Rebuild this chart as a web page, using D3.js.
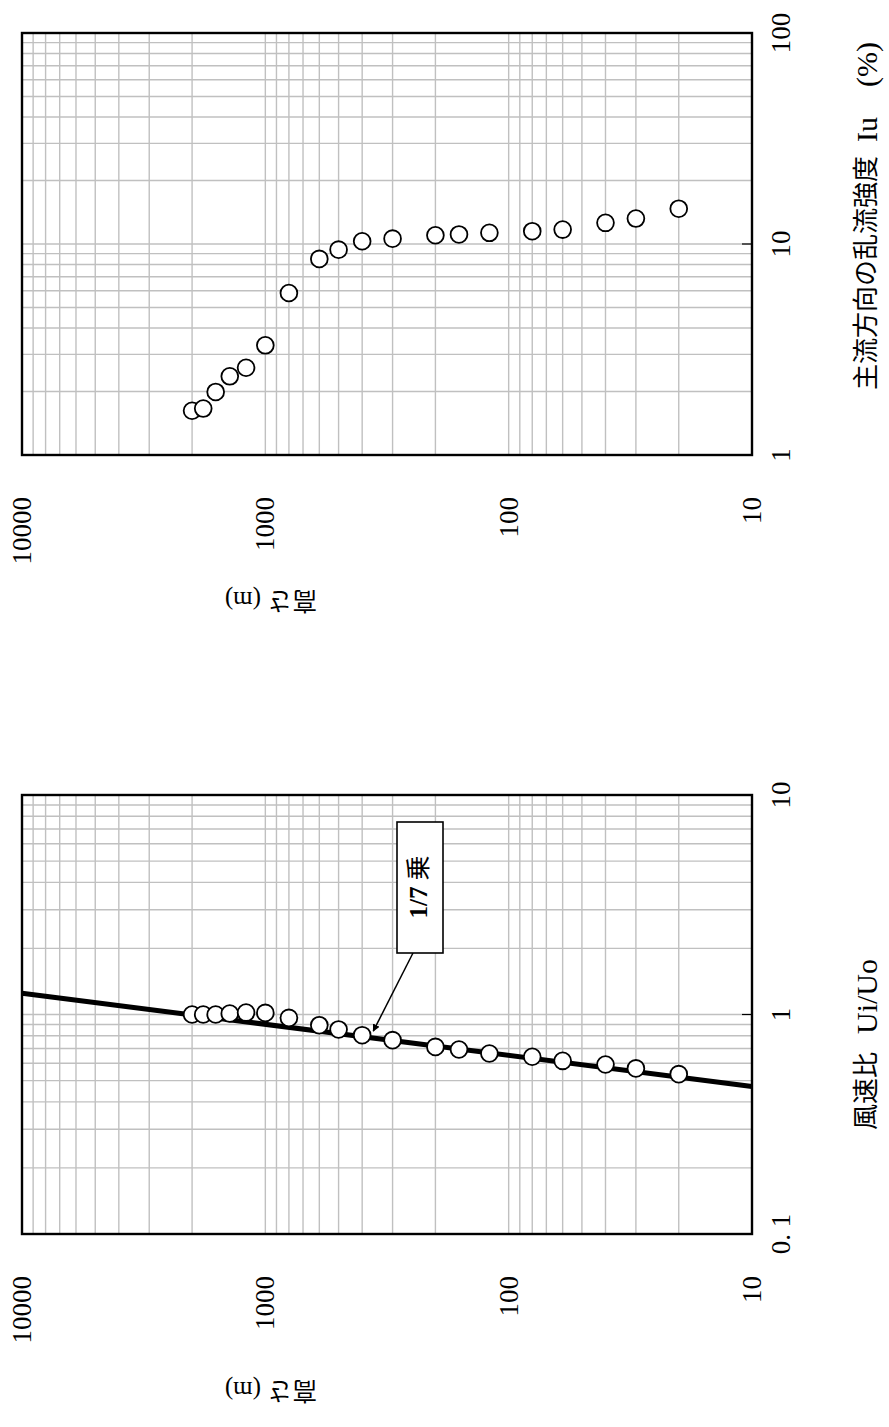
<!DOCTYPE html>
<html>
<head>
<meta charset="utf-8">
<script src="https://cdn.jsdelivr.net/npm/d3@7"></script>
<style>
  body { margin: 0; background: #fff; }
  text { font-family: "Liberation Serif", "Noto Sans CJK JP", serif; fill: #000; }
</style>
</head>
<body>
<div id="chart"></div>
<script>
// measured heights (m), shared by both panels
var heights = [2000, 1800, 1600, 1400, 1200, 1000, 800, 600, 500, 400, 300, 200, 160, 120, 80, 60, 40, 30, 20];

// turbulence intensity Iu (%)
var turbIntensity = [1.62, 1.66, 1.99, 2.36, 2.59, 3.31, 5.86, 8.5, 9.4, 10.3, 10.6, 11.0, 11.1, 11.3, 11.5, 11.7, 12.6, 13.2, 14.7];

// wind speed ratio Ui/Uo
var speedRatio = [1.0, 1.0, 1.0, 1.01, 1.02, 1.017, 0.965, 0.894, 0.855, 0.805, 0.764, 0.712, 0.693, 0.664, 0.642, 0.615, 0.592, 0.568, 0.535];

// 1/7 power law line, read at the plot edges
var powerHeights = [10, 10000];
var powerRatios  = [0.47, 1.25];

var heightTicks = [10, 100, 1000, 10000];
var turbTicks   = [1, 10, 100];
var ratioTicks  = [0.1, 1, 10];

var W = 889, H = 1427;

var svg = d3.select("#chart")
  .append("svg")
  .attr("width", W)
  .attr("height", H)
;

svg.append("rect").attr("width", W).attr("height", H).style("fill", "#fff");

var x = d3.scaleLog().domain([10000, 10]).range([22, 752]);

function panel(params) {
  var top = params.top,
      bottom = params.bottom,
      y = d3.scaleLog().domain(params.yDomain).range([bottom, top]),
      g = svg.append("g");

  // grid
  g.selectAll(".vgrid")
    .data(x.ticks())
    .enter()
    .append("line")
    .attr("x1", function(d){ return x(d); })
    .attr("x2", function(d){ return x(d); })
    .attr("y1", top)
    .attr("y2", bottom)
    .style("stroke", "#c0c0c0")
    .style("stroke-width", 1.4)
  ;

  g.selectAll(".hgrid")
    .data(y.ticks())
    .enter()
    .append("line")
    .attr("x1", x.range()[0])
    .attr("x2", x.range()[1])
    .attr("y1", function(d){ return y(d); })
    .attr("y2", function(d){ return y(d); })
    .style("stroke", "#c0c0c0")
    .style("stroke-width", 1.4)
  ;

  // small ticks on the right edge
  g.selectAll(".rtick")
    .data(params.yTicks)
    .enter()
    .append("line")
    .attr("x1", x.range()[1] - 10)
    .attr("x2", x.range()[1])
    .attr("y1", function(d){ return y(d); })
    .attr("y2", function(d){ return y(d); })
    .style("stroke", "#000")
    .style("stroke-width", 1.2)
  ;

  if (params.extra) params.extra(g, y);

  // frame
  g.append("rect")
    .attr("x", x.range()[0])
    .attr("y", top)
    .attr("width", x.range()[1] - x.range()[0])
    .attr("height", bottom - top)
    .style("fill", "none")
    .style("stroke", "#000")
    .style("stroke-width", 2.4)
  ;

  // points
  g.selectAll(".pt")
    .data(heights)
    .enter()
    .append("circle")
    .attr("cx", function(d){ return x(d); })
    .attr("cy", function(d, i){ return y(params.values[i]); })
    .attr("r", 8.4)
    .style("fill", "#fff")
    .style("stroke", "#000")
    .style("stroke-width", 1.8)
  ;

  // height tick labels (rotated)
  g.selectAll(".hlabel")
    .data(heightTicks)
    .enter()
    .append("text")
    .attr("transform", function(d){ return "translate(" + x(d) + "," + params.hLabelY + ") rotate(-90)"; })
    .attr("text-anchor", "end")
    .attr("dominant-baseline", "central")
    .style("font-size", "27px")
    .text(function(d){ return d; })
  ;

  // value tick labels on the right
  g.selectAll(".vlabel")
    .data(params.yTicks)
    .enter()
    .append("text")
    .attr("transform", function(d){ return "translate(781," + y(d) + ") rotate(-90)"; })
    .attr("text-anchor", "middle")
    .attr("dominant-baseline", "central")
    .style("font-size", "27px")
    .text(function(d){ return d === 0.1 ? "0. 1" : d; })
  ;

  // height title, upside down
  g.append("text")
    .attr("transform", "translate(271," + params.hTitleY + ") rotate(180)")
    .attr("text-anchor", "middle")
    .attr("dominant-baseline", "central")
    .style("font-size", "25px")
    .text("高さ (m)")
  ;

  // value title: CJK part, then latin parts set a little larger
  var title = g.append("text")
    .attr("transform", "translate(866," + params.titleY + ") rotate(-90)")
    .attr("text-anchor", "start")
    .attr("dominant-baseline", "central")
    .style("font-size", "26px")
  ;
  params.title.forEach(function(part, i) {
    title.append("tspan")
      .attr("dx", i === 0 ? 0 : params.titleGaps[i - 1])
      .style("font-size", i === 0 ? null : "30px")
      .text(part);
  });

  return y;
}

panel({
  top: 33, bottom: 455,
  yDomain: [1, 100],
  yTicks: turbTicks,
  values: turbIntensity,
  hLabelY: 497,
  hTitleY: 600,
  titleY: 390,
  title: ["主流方向の乱流強度", "Iu", "(%)"],
  titleGaps: [14, 30]
});

svg.append("defs")
  .append("marker")
  .attr("id", "arrow")
  .attr("viewBox", "0 0 10 10")
  .attr("refX", 9)
  .attr("refY", 5)
  .attr("markerWidth", 5)
  .attr("markerHeight", 5)
  .attr("orient", "auto")
  .append("path")
  .attr("d", "M0,0 L10,5 L0,10 z")
  .style("fill", "#000")
;

panel({
  top: 795, bottom: 1234,
  yDomain: [0.1, 10],
  yTicks: ratioTicks,
  values: speedRatio,
  hLabelY: 1276,
  hTitleY: 1390,
  titleY: 1130,
  title: ["風速比", "Ui/Uo"],
  titleGaps: [18],
  extra: function(g, y) {
    var line = d3.line()
          .x(function(d){ return x(d[0]); })
          .y(function(d){ return y(d[1]); })
    ;
    g.append("path")
      .attr("d", line(d3.zip(powerHeights, powerRatios)))
      .style("stroke", "#000")
      .style("stroke-width", 5)
      .style("fill", "none")
    ;

    // 1/7 label with leader
    var tip = [x(360), y(0.84)];
    g.append("line")
      .attr("x1", 413)
      .attr("y1", 953)
      .attr("x2", tip[0])
      .attr("y2", tip[1])
      .attr("marker-end", "url(#arrow)")
      .style("stroke", "#000")
      .style("stroke-width", 1.5)
    ;
    g.append("rect")
      .attr("x", 397)
      .attr("y", 822)
      .attr("width", 46)
      .attr("height", 131)
      .style("fill", "#fff")
      .style("stroke", "#000")
      .style("stroke-width", 1.6)
    ;
    var t = g.append("text")
      .attr("transform", "translate(418,887) rotate(-90)")
      .attr("text-anchor", "middle")
      .attr("dominant-baseline", "central")
      .style("font-size", "25px")
    ;
    t.append("tspan").style("font-weight", "bold").text("1/7");
    t.append("tspan").attr("dx", 6).text("乗");
  }
});
</script>
</body>
</html>
